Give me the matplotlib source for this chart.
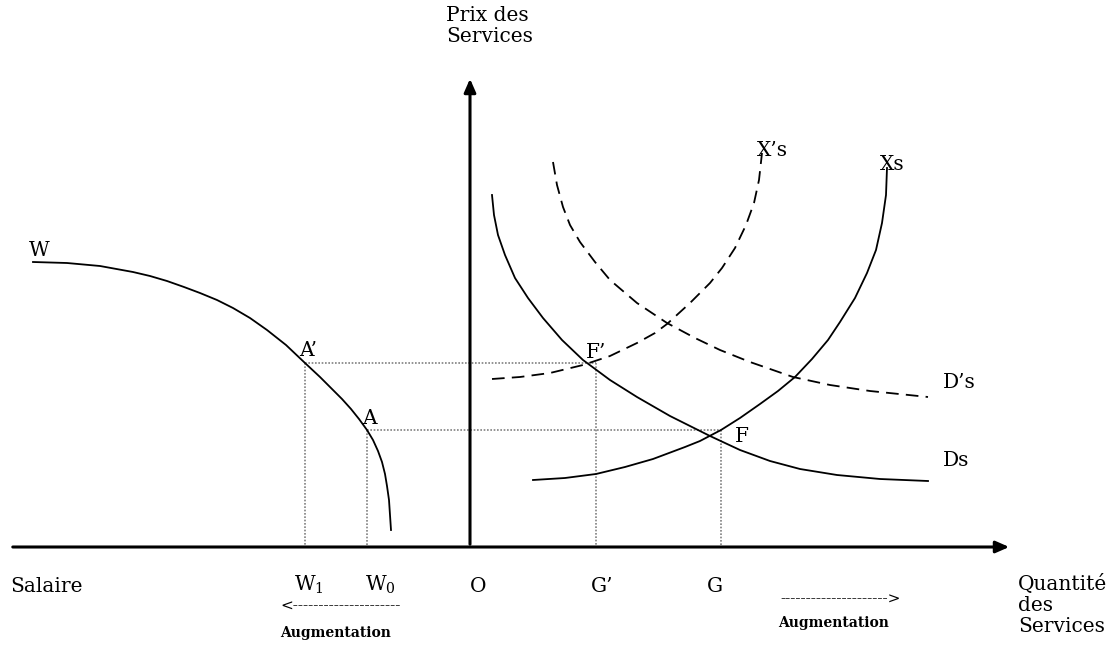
import matplotlib
matplotlib.use("Agg")
import matplotlib.pyplot as plt

plt.rcParams["font.family"] = ["DejaVu Serif"]
plt.rcParams["mathtext.fontset"] = "dejavuserif"

# points (pixel coordinates, y pointing down)
w_x = [33, 67, 100, 133, 150, 167, 184, 200, 217, 233, 250, 267, 286, 305, 320, 333, 342, 351, 359, 367, 373, 378, 382, 385, 387, 389, 390, 391]
w_y = [262, 263, 266, 272, 276, 281, 287, 293, 300, 308, 318, 330, 345, 363, 377, 390, 399, 409, 419, 430, 440, 451, 462, 474, 486, 500, 515, 530]

ds_x = [492, 494, 498, 505, 515, 528, 543, 562, 583, 610, 637, 670, 710, 740, 770, 800, 837, 880, 928]
ds_y = [195, 215, 235, 255, 278, 298, 318, 340, 360, 380, 397, 416, 436, 450, 461, 469, 475, 479, 481]

dps_x = [553, 557, 563, 570, 580, 595, 610, 637, 667, 695, 720, 750, 793, 830, 870, 928]
dps_y = [162, 185, 207, 225, 242, 262, 280, 303, 323, 338, 350, 362, 377, 385, 391, 397]

xs_x = [533, 565, 596, 625, 653, 685, 700, 721, 740, 760, 778, 795, 812, 828, 840, 855, 867, 876, 882, 886, 887]
xs_y = [480, 478, 474, 467, 459, 447, 441, 430, 418, 404, 391, 377, 359, 340, 322, 298, 273, 250, 223, 195, 168]

xps_x = [492, 520, 550, 583, 610, 637, 655, 667, 690, 710, 722, 735, 746, 754, 759, 762]
xps_y = [379, 377, 373, 365, 356, 343, 333, 324, 303, 283, 268, 248, 225, 203, 180, 153]

# equilibrium points: wage x, price y, quantity x
eq_w = [305, 367]
eq_p = [363, 430]
eq_q = [596, 721]

x0, y0 = 470, 547

fig = plt.figure(figsize=(11.11, 6.53), dpi=100)
ax = fig.add_axes([0, 0, 1, 1])
ax.set_xlim(0, 1111)
ax.set_ylim(653, 0)
ax.axis("off")

# axes with arrows
ax.annotate("", xy=(1012, y0), xytext=(10, y0),
            arrowprops=dict(arrowstyle="-|>,head_length=0.8,head_width=0.35", lw=2.2, color="black"))
ax.annotate("", xy=(x0, 76), xytext=(x0, y0),
            arrowprops=dict(arrowstyle="-|>,head_length=0.8,head_width=0.35", lw=2.2, color="black"))

# dotted guide lines
dot = dict(color="gray", lw=1.2, linestyle=(0, (1, 1)))
for wx, py, qx in zip(eq_w, eq_p, eq_q):
    ax.plot([wx, qx], [py, py], **dot)
    ax.plot([wx, wx], [py, y0], **dot)
    ax.plot([qx, qx], [py, y0], **dot)

# curves
ax.plot(w_x, w_y, color="black", lw=1.3)
ax.plot(ds_x, ds_y, color="black", lw=1.3)
ax.plot(xs_x, xs_y, color="black", lw=1.3)
ax.plot(dps_x, dps_y, color="black", lw=1.3, linestyle=(0, (7, 4)))
ax.plot(xps_x, xps_y, color="black", lw=1.3, linestyle=(0, (7, 4)))

fs = 14.5
ax.text(446, 6, "Prix des\nServices", fontsize=fs, ha="left", va="top", linespacing=1.15)
ax.text(29, 250, "W", fontsize=fs, ha="left", va="center")
ax.text(299, 351, "A’", fontsize=fs, ha="left", va="center")
ax.text(362, 419, "A", fontsize=fs, ha="left", va="center")
ax.text(586, 352, "F’", fontsize=fs, ha="left", va="center")
ax.text(735, 436, "F", fontsize=fs, ha="left", va="center")
ax.text(757, 151, "X’s", fontsize=fs, ha="left", va="center")
ax.text(880, 164, "Xs", fontsize=fs, ha="left", va="center")
ax.text(943, 383, "D’s", fontsize=fs, ha="left", va="center")
ax.text(943, 461, "Ds", fontsize=fs, ha="left", va="center")

ax.text(10, 587, "Salaire", fontsize=fs, ha="left", va="center")
ax.text(294, 585, r"W$_{\mathrm{1}}$", fontsize=fs, ha="left", va="center")
ax.text(365, 585, r"W$_{\mathrm{0}}$", fontsize=fs, ha="left", va="center")
ax.text(478, 587, "O", fontsize=fs, ha="center", va="center")
ax.text(591, 587, "G’", fontsize=fs, ha="left", va="center")
ax.text(715, 587, "G", fontsize=fs, ha="center", va="center")
ax.text(1018, 574, "Quantité\ndes\nServices", fontsize=fs, ha="left", va="top", linespacing=1.15)

ax.text(280, 607, "<" + "-" * 21, fontsize=11, ha="left", va="center")
ax.text(280, 633, "Augmentation", fontsize=10, fontweight="bold", ha="left", va="center")
ax.text(780, 600, "-" * 21 + ">", fontsize=11, ha="left", va="center")
ax.text(778, 623, "Augmentation", fontsize=10, fontweight="bold", ha="left", va="center")

fig.savefig("out.png", dpi=100)
